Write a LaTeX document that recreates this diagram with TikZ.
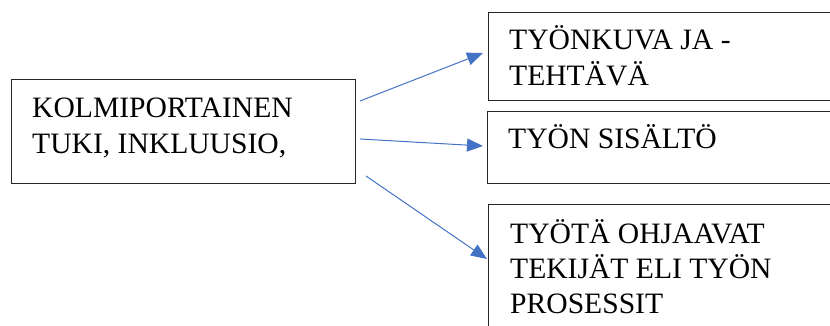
\documentclass[tikz,border=0pt]{standalone}
\usepackage{fontspec}
\setmainfont{Liberation Serif}
\usetikzlibrary{arrows.meta}
\definecolor{arrowblue}{HTML}{4472C4}
\definecolor{boxline}{HTML}{262626}
\begin{document}
\begin{tikzpicture}[x=1pt,y=-1pt,
  box/.style={draw=boxline, line width=1.4pt, anchor=north west, inner sep=0pt},
  txt/.style={anchor=base west, inner sep=0pt, font=\fontsize{29.6}{36}\selectfont},
  link/.style={draw=arrowblue, line width=1pt, -{Triangle[length=16pt,width=13pt]}}]
\useasboundingbox (0,0) rectangle (830,325);
\clip (0,0) rectangle (830,325);
% boxes
\node[box, minimum width=344pt, minimum height=104pt] (main) at (11,79) {};
\node[box, minimum width=360pt, minimum height=88pt] (b1) at (488,12) {};
\node[box, minimum width=360pt, minimum height=72pt] (b2) at (487,111) {};
\node[box, minimum width=360pt, minimum height=150pt] (b3) at (488,204) {};
% texts
\node[txt] (m1) at (32,117) {KOLMIPORTAINEN};
\node[txt] (m2) at (32,153) {TUKI, INKLUUSIO,};
\node[txt] (t1a) at (509,49) {TYÖNKUVA JA -};
\node[txt] (t1b) at (509,85) {TEHTÄVÄ};
\node[txt] (t2) at (508,148) {TYÖN SISÄLTÖ};
\node[txt] (t3a) at (510,243) {TYÖTÄ OHJAAVAT};
\node[txt] (t3b) at (510,278) {TEKIJÄT ELI TYÖN};
\node[txt] (t3c) at (510,313) {PROSESSIT};
% connector end points
\coordinate (s1) at (360,101);
\coordinate (e1) at (483,53);
\coordinate (s2) at (360,139);
\coordinate (e2) at (483,146);
\coordinate (s3) at (366,176);
\coordinate (e3) at (487,259);
\draw[link] (s1) -- (e1);
\draw[link] (s2) -- (e2);
\draw[link] (s3) -- (e3);
\end{tikzpicture}
\end{document}
